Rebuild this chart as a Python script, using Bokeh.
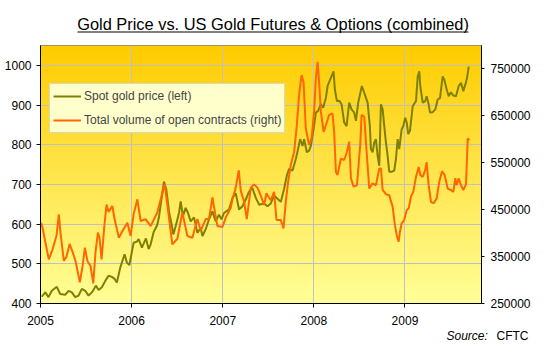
import numpy as np
from bokeh.plotting import figure
from bokeh.layouts import column
from bokeh.models import (Range1d, LinearAxis, FixedTicker, BasicTickFormatter,
                          Legend, LegendItem)
from bokeh.core.properties import value
from bokeh.embed import file_html
from bokeh.resources import INLINE

# ---------------- data ----------------
gold_t = [2005.014, 2005.052, 2005.088, 2005.124, 2005.179, 2005.216, 2005.271, 2005.308,
          2005.344, 2005.381, 2005.418, 2005.454, 2005.491, 2005.527, 2005.564, 2005.608,
          2005.637, 2005.674, 2005.711, 2005.747, 2005.784, 2005.813, 2005.838, 2005.876,
          2005.923, 2005.948, 2005.975, 2006.022, 2006.058, 2006.077, 2006.113, 2006.157,
          2006.187, 2006.209, 2006.242, 2006.280, 2006.302, 2006.319, 2006.355, 2006.381,
          2006.410, 2006.436, 2006.458, 2006.484, 2006.520, 2006.538, 2006.564, 2006.593,
          2006.619, 2006.648, 2006.685, 2006.722, 2006.758, 2006.777, 2006.813, 2006.849,
          2006.887, 2006.923, 2006.959, 2006.986, 2007.014, 2007.069, 2007.107, 2007.143,
          2007.179, 2007.216, 2007.253, 2007.289, 2007.326, 2007.363, 2007.399, 2007.454,
          2007.491, 2007.527, 2007.564, 2007.601, 2007.637, 2007.674, 2007.703, 2007.729,
          2007.766, 2007.802, 2007.827, 2007.849, 2007.876, 2007.893, 2007.923, 2007.948,
          2007.967, 2007.997, 2008.022, 2008.047, 2008.077, 2008.102, 2008.132, 2008.151,
          2008.179, 2008.216, 2008.231, 2008.253, 2008.278, 2008.304, 2008.333, 2008.359,
          2008.388, 2008.414, 2008.443, 2008.462, 2008.487, 2008.527, 2008.553, 2008.590,
          2008.615, 2008.626, 2008.645, 2008.663, 2008.681, 2008.700, 2008.718, 2008.736,
          2008.755, 2008.773, 2008.791, 2008.810, 2008.827, 2008.857, 2008.882, 2008.901,
          2008.920, 2008.937, 2008.964, 2008.981, 2009.003, 2009.019, 2009.036, 2009.055,
          2009.085, 2009.121, 2009.140, 2009.157, 2009.168, 2009.195, 2009.223, 2009.238,
          2009.260, 2009.275, 2009.304, 2009.333, 2009.359, 2009.385, 2009.414, 2009.432,
          2009.458, 2009.480, 2009.505, 2009.531, 2009.560, 2009.590, 2009.615, 2009.641,
          2009.663, 2009.681, 2009.700]
gold_price = [417, 428, 416, 432, 442, 424, 422, 432,
              428, 416, 420, 437, 432, 420, 428, 445,
              434, 441, 457, 470, 467, 462, 453, 491,
              524, 503, 497, 553, 556, 562, 541, 564,
              537, 549, 580, 597, 620, 649, 707, 687,
              632, 603, 574, 595, 628, 657, 620, 641,
              628, 607, 617, 578, 591, 570, 587, 612,
              632, 607, 624, 612, 628, 637, 666, 678,
              637, 645, 662, 682, 691, 666, 649, 652,
              645, 652, 672, 664, 656, 689, 722, 739,
              735, 764, 789, 814, 797, 814, 781, 785,
              797, 839, 881, 885, 902, 893, 918, 948,
              964, 985, 939, 910, 911, 902, 856, 847,
              906, 889, 881, 860, 906, 948, 931, 906,
              847, 789, 781, 806, 814, 772, 747, 902,
              889, 847, 806, 772, 732, 732, 735, 764,
              814, 789, 839, 847, 868, 856, 827, 835,
              897, 910, 972, 985, 948, 906, 910, 922,
              902, 881, 882, 889, 914, 918, 972, 964,
              939, 922, 932, 924, 922, 948, 956, 935,
              952, 968, 997]

oi_t = [2005.008, 2005.022, 2005.044, 2005.091, 2005.132, 2005.176, 2005.201, 2005.220,
        2005.256, 2005.286, 2005.319, 2005.352, 2005.385, 2005.432, 2005.462, 2005.487,
        2005.516, 2005.549, 2005.579, 2005.604, 2005.630, 2005.648, 2005.670, 2005.703,
        2005.725, 2005.747, 2005.788, 2005.813, 2005.860, 2005.901, 2005.953, 2005.989,
        2006.022, 2006.063, 2006.099, 2006.154, 2006.209, 2006.282, 2006.363, 2006.447,
        2006.502, 2006.557, 2006.612, 2006.667, 2006.722, 2006.758, 2006.813, 2006.849,
        2006.887, 2006.915, 2006.942, 2006.997, 2007.033, 2007.088, 2007.107, 2007.143,
        2007.176, 2007.198, 2007.234, 2007.264, 2007.308, 2007.344, 2007.381, 2007.418,
        2007.454, 2007.480, 2007.527, 2007.564, 2007.590, 2007.637, 2007.667, 2007.692,
        2007.718, 2007.747, 2007.784, 2007.813, 2007.838, 2007.865, 2007.887, 2007.912,
        2007.948, 2007.975, 2008.003, 2008.022, 2008.041, 2008.058, 2008.077, 2008.107,
        2008.132, 2008.168, 2008.205, 2008.223, 2008.242, 2008.260, 2008.297, 2008.333,
        2008.363, 2008.388, 2008.407, 2008.436, 2008.473, 2008.509, 2008.524, 2008.553,
        2008.582, 2008.608, 2008.645, 2008.681, 2008.718, 2008.736, 2008.755, 2008.791,
        2008.827, 2008.865, 2008.890, 2008.912, 2008.931, 2008.945, 2008.964, 2008.992,
        2009.019, 2009.041, 2009.066, 2009.091, 2009.121, 2009.151, 2009.168, 2009.195,
        2009.223, 2009.238, 2009.260, 2009.286, 2009.315, 2009.348, 2009.377, 2009.407,
        2009.436, 2009.469, 2009.505, 2009.531, 2009.553, 2009.568, 2009.590, 2009.615,
        2009.641, 2009.670, 2009.689, 2009.707]
oi_contracts = [422000, 412000, 390000, 344000, 365000, 395000, 440000, 400000,
                341000, 350000, 377000, 360000, 340000, 295000, 330000, 369000,
                340000, 330000, 293000, 360000, 401000, 390000, 344000, 420000,
                461000, 445000, 458000, 430000, 390000, 405000, 422000, 394000,
                440000, 472000, 426000, 430000, 415000, 444000, 505000, 376000,
                388000, 444000, 394000, 390000, 430000, 405000, 430000, 430000,
                476000, 444000, 415000, 413000, 433000, 454000, 472000, 497000,
                534000, 490000, 468000, 430000, 497000, 504000, 497000, 480000,
                460000, 485000, 470000, 488000, 428000, 428000, 410000, 467000,
                510000, 545000, 573000, 630000, 694000, 737000, 722000, 623000,
                588000, 602000, 659000, 730000, 765000, 722000, 659000, 616000,
                630000, 652000, 655000, 616000, 531000, 524000, 559000, 556000,
                573000, 595000, 517000, 499000, 502000, 588000, 652000, 648000,
                566000, 495000, 506000, 502000, 538000, 538000, 492000, 483000,
                481000, 456000, 417000, 393000, 382000, 403000, 421000, 428000,
                449000, 453000, 478000, 488000, 520000, 541000, 524000, 520000,
                535000, 551000, 502000, 466000, 464000, 474000, 510000, 532000,
                524000, 495000, 492000, 488000, 517000, 502000, 517000, 502000,
                492000, 504000, 602000, 598000]

year_ticks = [2005, 2006, 2007, 2008, 2009]
price_ticks = [400, 500, 600, 700, 800, 900, 1000]
oi_ticks = [250000, 350000, 450000, 550000, 650000, 750000]

title_text = "Gold Price vs. US Gold Futures & Options (combined)"
legend_labels = ["Spot gold price (left)", "Total volume of open contracts (right)"]
source_label = "Source:"
source_name = "CFTC"

FONT = "Liberation Sans"
W = 552

x_start, x_end = 2005, 2009.84
y_start, y_end = 400, 1050
oi_start, oi_end = 250000, 800000


def blank_fig(h):
    f = figure(width=W, height=h, output_backend="svg", toolbar_location=None,
               x_range=Range1d(0, W), y_range=Range1d(0, h),
               x_axis_type=None, y_axis_type=None, frame_align=False,
               min_border=0, min_border_left=0, min_border_right=0,
               min_border_top=0, min_border_bottom=0,
               background_fill_color="white", border_fill_color="white")
    f.outline_line_color = None
    f.xgrid.visible = False
    f.ygrid.visible = False
    return f


# ---------------- title strip (underlined title) ----------------
TH = 45
tf = blank_fig(TH)
tf.text(x=[272.5], y=[TH - 23], text=[title_text], text_align="center",
        text_baseline="middle", text_font=value(FONT), text_font_size="16.4px",
        text_color="black")
tf.segment(x0=[77], y0=[TH - 31.5], x1=[468], y1=[TH - 31.5], line_color="black",
           line_width=1)

# ---------------- main chart ----------------
p = figure(width=W, height=284, output_backend="svg", toolbar_location=None,
           x_range=Range1d(x_start, x_end), y_range=Range1d(y_start, y_end),
           min_border_left=40, min_border_right=71, min_border_top=0, min_border_bottom=26,
           frame_align=False,
           background_fill_color="white", border_fill_color="white")
p.extra_y_ranges = {"oi": Range1d(oi_start, oi_end)}
p.outline_line_color = "#808080"

# background gradient (style only)
n = 256
frac = np.linspace(0.0, 1.0, n)
img = np.empty((n, 2), dtype=np.uint32)
view = img.view(dtype=np.uint8).reshape((n, 2, 4))
view[:, :, 0] = 255
view[:, :, 1] = (255 - 51 * frac)[:, None].astype(np.uint8)
view[:, :, 2] = (153 * (1 - frac))[:, None].astype(np.uint8)
view[:, :, 3] = 255
p.image_rgba(image=[img], x=x_start, y=y_start, dw=x_end - x_start, dh=y_end - y_start,
             level="image")

r_gold = p.line(gold_t, gold_price, color="#808000", line_width=2)
r_oi = p.line(oi_t, oi_contracts, color="#FF6600", line_width=2, y_range_name="oi")

p.xgrid.ticker = FixedTicker(ticks=year_ticks)
p.ygrid.ticker = FixedTicker(ticks=price_ticks)
for g in (p.xgrid[0], p.ygrid[0]):
    g.grid_line_color = "#C0C0C0"
    g.grid_line_width = 1


def style_axis(ax, standoff, tick_out):
    ax.major_label_text_font = FONT
    ax.major_label_text_font_size = "12px"
    ax.major_label_text_color = "black"
    ax.axis_line_color = "black"
    ax.major_tick_line_color = "black"
    ax.major_tick_out = tick_out
    ax.major_tick_in = 0
    ax.minor_tick_line_color = None
    ax.major_label_standoff = standoff


xa = p.xaxis[0]
xa.ticker = FixedTicker(ticks=year_ticks)
style_axis(xa, 8, 4)

ya = p.yaxis[0]
ya.ticker = FixedTicker(ticks=price_ticks)
style_axis(ya, 5, 4)

ra = LinearAxis(y_range_name="oi", ticker=FixedTicker(ticks=oi_ticks),
                formatter=BasicTickFormatter(use_scientific=False))
style_axis(ra, 6, 3)
p.add_layout(ra, "right")

legend = Legend(items=[LegendItem(label=legend_labels[0], renderers=[r_gold]),
                       LegendItem(label=legend_labels[1], renderers=[r_oi])],
                location=(9, 170), margin=0, padding=3, spacing=6,
                glyph_width=28, glyph_height=18, label_height=18, label_standoff=3,
                label_text_font=FONT, label_text_font_size="12px",
                background_fill_color="#FFFFCC", background_fill_alpha=1.0,
                border_line_color="#B4B4B4")
p.add_layout(legend)

# ---------------- source strip ----------------
SH = 359 - TH - 284
sf = blank_fig(SH)
sf.text(x=[446], y=[SH - 6], text=[source_label], text_align="left", text_baseline="middle",
        text_font=value(FONT), text_font_style="italic", text_font_size="12px",
        text_color="black")
sf.text(x=[528], y=[SH - 6], text=[source_name], text_align="right", text_baseline="middle",
        text_font=value(FONT), text_font_size="12px", text_color="black")

layout = column(tf, p, sf, spacing=0)
open("out.html", "w").write(file_html(layout, INLINE))
